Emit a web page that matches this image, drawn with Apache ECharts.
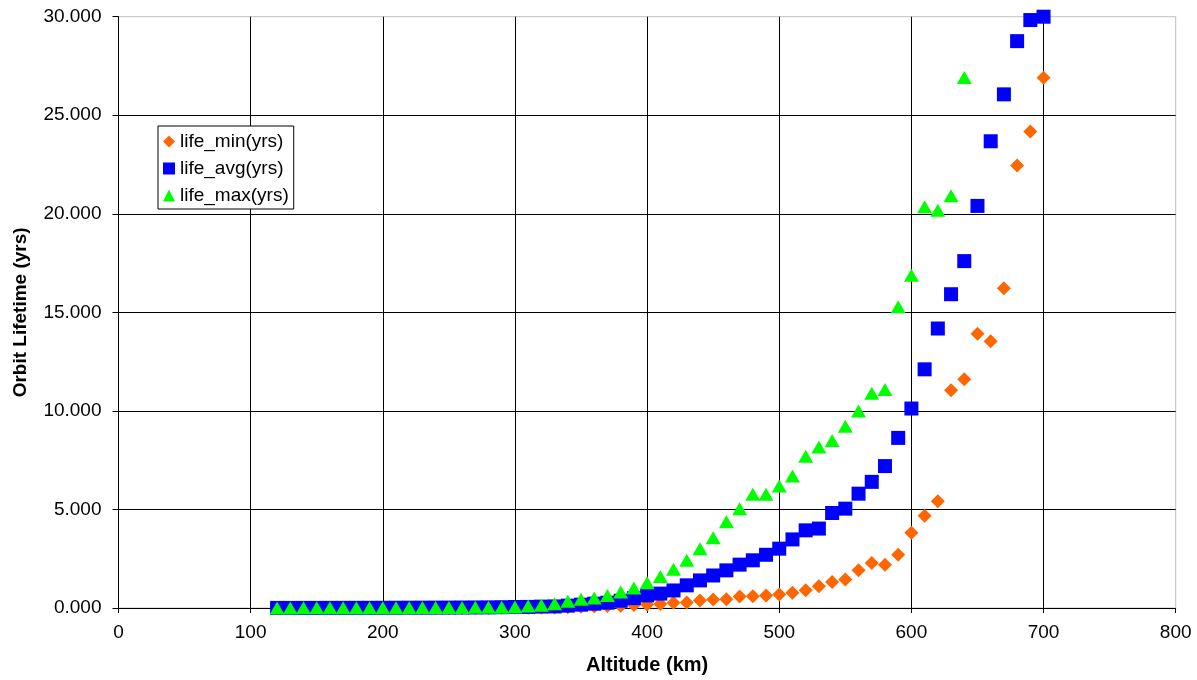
<!DOCTYPE html>
<html>
<head>
<meta charset="utf-8">
<script src="https://cdn.jsdelivr.net/npm/echarts@6/dist/echarts.min.js"></script>
<style>
html,body{margin:0;padding:0;background:#fff;}
#chart{width:1197px;height:680px;}
</style>
</head>
<body>
<div id="chart"></div>
<script>
var altitudes = [120,130,140,150,160,170,180,190,200,210,220,230,240,250,260,270,280,290,
  300,310,320,330,340,350,360,370,380,390,400,410,420,430,440,450,460,470,480,490,
  500,510,520,530,540,550,560,570,580,590,600,610,620,630,640,650,660,670,680,690,700];

var lifeMin = [0,0,0,0,0,0,0,0,0,0,0.001,0.001,0.002,0.002,0.003,0.004,0.005,0.007,
  0.01,0.015,0.02,0.03,0.04,0.06,0.08,0.1,0.12,0.15,0.18,0.2,0.27,0.28,0.38,0.43,0.45,0.58,0.6,0.64,
  0.69,0.78,0.9,1.1,1.32,1.45,1.91,2.28,2.2,2.7,3.82,4.68,5.41,11.05,11.6,13.92,13.53,16.22,22.45,24.18,26.9];

var lifeAvg = [0.005,0.005,0.006,0.007,0.008,0.009,0.01,0.011,0.012,0.014,0.016,0.018,0.02,0.022,0.025,0.028,0.032,0.04,
  0.05,0.055,0.07,0.08,0.12,0.17,0.22,0.27,0.37,0.5,0.64,0.73,0.89,1.15,1.4,1.65,1.91,2.2,2.42,2.7,
  3.01,3.48,3.94,4.03,4.82,5.04,5.8,6.4,7.2,8.63,10.12,12.11,14.18,15.92,17.6,20.4,23.68,26.06,28.76,29.83,30.0];

var lifeMax = [0.005,0.006,0.007,0.008,0.009,0.01,0.011,0.012,0.014,0.016,0.018,0.02,0.022,0.025,0.028,0.032,0.036,0.042,
  0.05,0.1,0.14,0.22,0.34,0.44,0.51,0.64,0.81,1.02,1.28,1.6,1.96,2.42,3.0,3.57,4.37,5.04,5.77,5.77,
  6.19,6.7,7.7,8.17,8.5,9.22,10.0,10.9,11.08,15.28,16.88,20.36,20.18,20.91,26.92,null,null,null,null,null,null];

var seriesNames = ['life_min(yrs)', 'life_avg(yrs)', 'life_max(yrs)'];
var xTicks = [0, 100, 200, 300, 400, 500, 600, 700, 800];
var yTicks = [0, 5, 10, 15, 20, 25, 30];

function pairs(vals) {
  var out = [];
  for (var i = 0; i < altitudes.length; i++) {
    if (vals[i] !== null && vals[i] !== undefined) out.push([altitudes[i], vals[i]]);
  }
  return out;
}

var font = '"Liberation Sans", Arial, sans-serif';
var chart = echarts.init(document.getElementById('chart'), null, {renderer: 'canvas'});
chart.setOption({
  animation: false,
  backgroundColor: '#ffffff',
  textStyle: {fontFamily: font},
  grid: {
    left: 118.5, right: 21.3, top: 16.7, bottom: 70.7,
    show: true, borderColor: '#c0c0c0', borderWidth: 1, backgroundColor: 'transparent'
  },
  legend: {
    orient: 'vertical',
    left: 158, top: 126,
    padding: [6, 5, 4, 5],
    itemGap: 8,
    itemWidth: 12, itemHeight: 12,
    backgroundColor: '#ffffff',
    borderColor: '#000000', borderWidth: 1,
    textStyle: {fontFamily: font, fontSize: 19, color: '#000', lineHeight: 19},
    data: [
      {name: seriesNames[0], icon: 'diamond'},
      {name: seriesNames[1], icon: 'rect'},
      {name: seriesNames[2], icon: 'triangle'}
    ]
  },
  xAxis: {
    type: 'value',
    min: xTicks[0], max: xTicks[xTicks.length - 1], interval: 100,
    name: 'Altitude (km)',
    nameLocation: 'middle', nameGap: 47,
    nameTextStyle: {fontFamily: font, fontSize: 20, fontWeight: 'bold', color: '#000'},
    axisLine: {show: true, onZero: false, lineStyle: {color: '#000', width: 1}},
    axisTick: {show: true, inside: false, length: 5, lineStyle: {color: '#000'}},
    axisLabel: {fontFamily: font, fontSize: 19, color: '#000', margin: 15},
    splitLine: {show: true, showMinLine: false, showMaxLine: false, lineStyle: {color: '#000', width: 1}}
  },
  yAxis: {
    type: 'value',
    min: yTicks[0], max: yTicks[yTicks.length - 1], interval: 5,
    name: 'Orbit Lifetime (yrs)',
    nameLocation: 'middle', nameGap: 88, nameRotate: 90,
    nameTextStyle: {fontFamily: font, fontSize: 19, fontWeight: 'bold', color: '#000'},
    axisLine: {show: true, onZero: false, lineStyle: {color: '#000', width: 1}},
    axisTick: {show: true, inside: false, length: 6, lineStyle: {color: '#000'}},
    axisLabel: {fontFamily: font, fontSize: 19, color: '#000', margin: 17,
      formatter: function (v) { return v.toFixed(3); }},
    splitLine: {show: true, showMinLine: false, showMaxLine: false, lineStyle: {color: '#000', width: 1}}
  },
  series: [
    {name: seriesNames[0], type: 'scatter', clip: false, symbol: 'diamond', symbolSize: 14,
      itemStyle: {color: '#FF6600', opacity: 1}, data: pairs(lifeMin)},
    {name: seriesNames[1], type: 'scatter', clip: false, symbol: 'rect', symbolSize: 14,
      itemStyle: {color: '#0000FF', opacity: 1}, data: pairs(lifeAvg)},
    {name: seriesNames[2], type: 'scatter', clip: false, symbol: 'triangle', symbolSize: [15, 13],
      itemStyle: {color: '#00FF00', opacity: 1}, data: pairs(lifeMax)}
  ]
});
</script>
</body>
</html>
